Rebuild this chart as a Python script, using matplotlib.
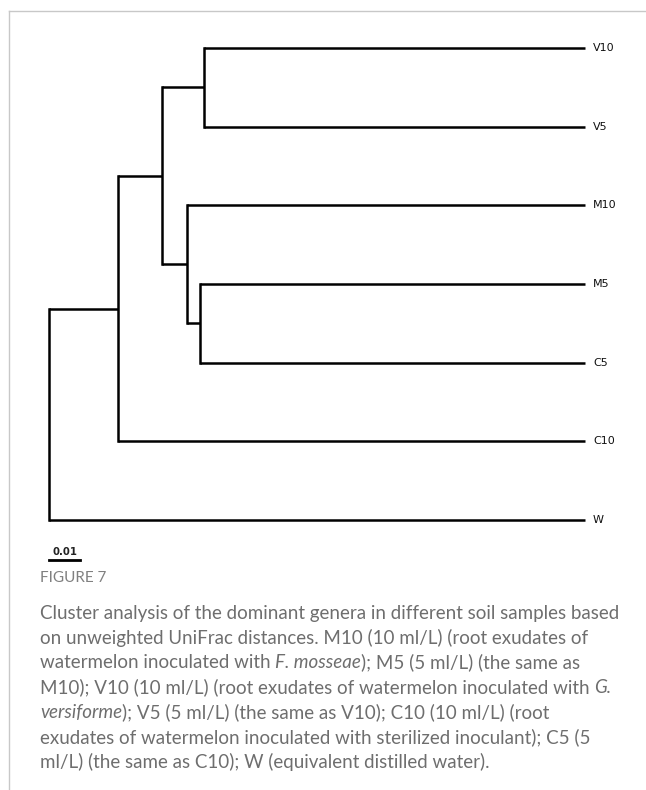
import matplotlib as mpl
mpl.use('Agg')
import matplotlib.pyplot as plt
from matplotlib.lines import Line2D

# leaves, top to bottom
leaves = ["V10", "V5", "M10", "M5", "C5", "C10", "W"]
tip_dist = 0.1729

# internal nodes: name, children, distance from root (unweighted UniFrac)
nodes = [
    ("V", ("V10", "V5"), 0.0500),
    ("MC5", ("M5", "C5"), 0.0487),
    ("MC", ("M10", "MC5"), 0.0444),
    ("VMC", ("V", "MC"), 0.0363),
    ("A", ("VMC", "C10"), 0.0223),
    ("root", ("A", "W"), 0.0),
]
scale_len = 0.01

caption = [
    [("Cluster analysis of the dominant genera in different soil samples based", "normal")],
    [("on unweighted UniFrac distances. M10 (10 ml/L) (root exudates of", "normal")],
    [("watermelon inoculated with ", "normal"), ("F. mosseae", "italic"),
     ("); M5 (5 ml/L) (the same as", "normal")],
    [("M10); V10 (10 ml/L) (root exudates of watermelon inoculated with ", "normal"),
     ("G.", "italic")],
    [("versiforme", "italic"), ("); V5 (5 ml/L) (the same as V10); C10 (10 ml/L) (root", "normal")],
    [("exudates of watermelon inoculated with sterilized inoculant); C5 (5", "normal")],
    [("ml/L) (the same as C10); W (equivalent distilled water).", "normal")],
]

W, H = 646, 790
fig = plt.figure(figsize=(W / 100, H / 100), dpi=100)

# light frame
fig.add_artist(Line2D([9 / W, 9 / W], [0, 1 - 11 / H], color='#c8c8c8', lw=1))
fig.add_artist(Line2D([9 / W, 1], [1 - 11 / H, 1 - 11 / H], color='#c8c8c8', lw=1))

# tree axes: x = distance from root, y = leaf index
ax = fig.add_axes([49 / W, 1 - 520 / H, (585 - 49) / W, (520 - 48) / H])
ax.set_xlim(0, tip_dist)
ax.set_ylim(len(leaves) - 1, 0)
ax.axis('off')

ypos = {name: i for i, name in enumerate(leaves)}
xpos = {name: tip_dist for name in leaves}
for name, kids, d in nodes:
    ypos[name] = sum(ypos[k] for k in kids) / len(kids)
    xpos[name] = d

lw = 1.8
for name, kids, d in nodes:
    ys = [ypos[k] for k in kids]
    ax.plot([d, d], [min(ys), max(ys)], color='black', lw=lw, clip_on=False,
            solid_capstyle='projecting')
    for k in kids:
        ax.plot([d, xpos[k]], [ypos[k], ypos[k]], color='black', lw=lw,
                clip_on=False, solid_capstyle='butt')

for name in leaves:
    ax.annotate(name, (tip_dist, ypos[name]), xytext=(5.8, 0), textcoords='offset points',
                va='center', ha='left', fontsize=8, family='DejaVu Sans',
                color='#111111', annotation_clip=False)

# scale bar
ax.plot([0, scale_len], [6.508, 6.508], color='black', lw=2, clip_on=False)
ax.text(scale_len / 2, 6.41, "0.01", ha='center', va='center', fontsize=7.3,
        fontweight='bold', color='#222222')

# caption
fig.text(40 / W, 1 - 578 / H, "FIGURE 7", fontsize=11, family='Lato',
         color='#808080', va='center', ha='left')

renderer = fig.canvas.get_renderer()
y0 = 613
for i, line in enumerate(caption):
    x = 40
    y = 1 - (y0 + i * 24.8) / H
    for txt, style in line:
        t = fig.text(x / W, y, txt, fontsize=13.5, family='Lato', style=style,
                     color='#6e6e6e', va='center', ha='left')
        x += t.get_window_extent(renderer).width

fig.savefig('out.png', dpi=100)
